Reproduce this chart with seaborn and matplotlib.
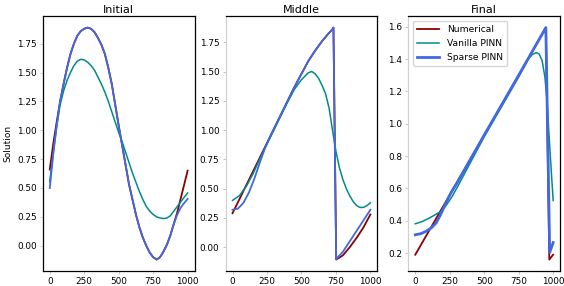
import numpy as np
import pandas as pd
import matplotlib
matplotlib.use("Agg")
import matplotlib.pyplot as plt
import seaborn as sns

# -----------------------------
# Data (x position, solution value)
# -----------------------------
titles = ["Initial", "Middle", "Final"]
series_names = ["Numerical", "Vanilla PINN", "Sparse PINN"]
colors = ["#8b0000", "#008b8b", "#4169e1"]
widths = [1.3, 1.1, 1.3]

# Initial
init_num_x = [0, 25, 50, 75, 100, 125, 150, 175, 200, 225, 250, 275, 300, 325, 350, 375, 400,
              425, 450, 475, 500, 525, 550, 575, 600, 625, 650, 675, 700, 725, 750, 775, 800,
              825, 850, 875, 900, 925, 950, 975, 1000]
init_num_y = [0.66, 0.88, 1.07, 1.25, 1.40, 1.54, 1.66, 1.75, 1.82, 1.86, 1.88, 1.89, 1.88, 1.85,
              1.80, 1.74, 1.66, 1.54, 1.40, 1.22, 1.04, 0.87, 0.70, 0.53, 0.40, 0.27, 0.16, 0.07,
              0.00, -0.06, -0.10, -0.12, -0.10, -0.05, 0.01, 0.09, 0.19, 0.29, 0.41, 0.53, 0.65]
init_van_x = [0, 25, 50, 75, 100, 125, 150, 175, 200, 225, 250, 275, 300, 325, 350, 375, 400,
              425, 450, 475, 500, 525, 550, 575, 600, 625, 650, 675, 700, 725, 750, 775, 800,
              825, 850, 875, 900, 925, 950, 975, 1000]
init_van_y = [0.556, 0.80, 1.03, 1.22, 1.34, 1.43, 1.50, 1.56, 1.60, 1.615, 1.61, 1.59, 1.56,
              1.52, 1.46, 1.40, 1.33, 1.25, 1.16, 1.07, 0.98, 0.90, 0.81, 0.72, 0.63, 0.55, 0.47,
              0.40, 0.34, 0.30, 0.27, 0.25, 0.24, 0.235, 0.24, 0.26, 0.30, 0.34, 0.38, 0.42, 0.457]
init_sp_x = [0, 25, 50, 75, 100, 125, 150, 175, 200, 225, 250, 275, 300, 325, 350, 375, 400,
             425, 450, 475, 500, 525, 550, 575, 600, 625, 650, 675, 700, 725, 750, 775, 800,
             825, 850, 875, 900, 925, 950, 975, 1000]
init_sp_y = [0.50, 0.79, 1.04, 1.25, 1.40, 1.54, 1.66, 1.75, 1.82, 1.86, 1.88, 1.89, 1.88, 1.85,
             1.80, 1.74, 1.66, 1.54, 1.40, 1.22, 1.04, 0.87, 0.70, 0.53, 0.40, 0.27, 0.16, 0.07,
             0.00, -0.06, -0.10, -0.12, -0.10, -0.05, 0.01, 0.09, 0.19, 0.27, 0.33, 0.37, 0.405]

# Middle
mid_num_x = [0, 50, 100, 150, 200, 250, 300, 350, 400, 450, 500, 550, 600, 650, 700, 725, 732,
             752, 800, 850, 900, 950, 1000]
mid_num_y = [0.29, 0.41, 0.53, 0.65, 0.77, 0.89, 1.01, 1.13, 1.25, 1.37, 1.48, 1.59, 1.68, 1.76,
             1.83, 1.86, 1.875, -0.105, -0.07, 0.00, 0.08, 0.17, 0.28]
mid_van_x = [0, 50, 100, 150, 200, 250, 300, 350, 400, 450, 500, 550, 575, 600, 625, 650, 675,
             700, 725, 750, 775, 800, 825, 850, 875, 900, 925, 950, 975, 1000]
mid_van_y = [0.40, 0.44, 0.52, 0.63, 0.76, 0.88, 1.00, 1.12, 1.24, 1.35, 1.43, 1.49, 1.50, 1.48,
             1.44, 1.38, 1.31, 1.19, 1.00, 0.82, 0.68, 0.58, 0.50, 0.44, 0.39, 0.355, 0.34, 0.34,
             0.355, 0.38]
mid_sp_x = [0, 40, 80, 120, 160, 200, 240, 300, 350, 400, 450, 500, 550, 600, 650, 700, 725, 732,
            752, 800, 850, 900, 950, 1000]
mid_sp_y = [0.32, 0.33, 0.38, 0.47, 0.59, 0.73, 0.86, 1.01, 1.13, 1.25, 1.37, 1.48, 1.59, 1.68,
            1.76, 1.83, 1.86, 1.875, -0.10, -0.04, 0.05, 0.14, 0.23, 0.32]

# Final
fin_num_x = [0, 250, 500, 750, 947, 972, 1000]
fin_num_y = [0.19, 0.56, 0.93, 1.30, 1.595, 0.16, 0.19]
fin_van_x = [0, 50, 101, 150, 186, 220, 260, 300, 500, 750, 800, 820, 850, 880, 900, 920, 940,
             955, 975, 1000]
fin_van_y = [0.381, 0.395, 0.416, 0.44, 0.458, 0.49, 0.54, 0.60, 0.92, 1.29, 1.37, 1.40, 1.43,
             1.44, 1.43, 1.39, 1.29, 1.15, 0.86, 0.525]
fin_sp_x = [0, 40, 77, 115, 150, 185, 222, 260, 300, 500, 750, 947, 975, 1000]
fin_sp_y = [0.313, 0.32, 0.334, 0.355, 0.385, 0.44, 0.51, 0.575, 0.63, 0.93, 1.30, 1.595, 0.204,
            0.265]

panels = [
    [(init_num_x, init_num_y), (init_van_x, init_van_y), (init_sp_x, init_sp_y)],
    [(mid_num_x, mid_num_y), (mid_van_x, mid_van_y), (mid_sp_x, mid_sp_y)],
    [(fin_num_x, fin_num_y), (fin_van_x, fin_van_y), (fin_sp_x, fin_sp_y)],
]

# -----------------------------
# Plot
# -----------------------------
fig, axes = plt.subplots(1, 3, figsize=(5.64, 2.86), dpi=100)
plt.subplots_adjust(left=0.076, right=0.993, bottom=0.052, top=0.944, wspace=0.205)

for i, ax in enumerate(axes):
    for j, (xs, ys) in enumerate(panels[i]):
        df = pd.DataFrame({"x": xs, "y": ys})
        sns.lineplot(data=df, x="x", y="y", ax=ax, color=colors[j],
                     lw=widths[j], label=series_names[j], legend=False)
    ax.set_title(titles[i], fontsize=8, pad=2)
    ax.set_xlabel("")
    ax.set_ylabel("")
    ax.set_xticks([0, 250, 500, 750, 1000])
    ax.tick_params(labelsize=6.4, length=2.5, width=0.6, pad=2, color="#bbbbbb")
    for s in ax.spines.values():
        s.set_linewidth(0.9)
    if i > 0:
        ax.spines["left"].set_color("#d0d0d0")

axes[0].set_ylabel("Solution", fontsize=6.5, labelpad=3)
axes[0].set_yticks([0.0, 0.25, 0.5, 0.75, 1.0, 1.25, 1.5, 1.75])
axes[1].set_yticks([0.0, 0.25, 0.5, 0.75, 1.0, 1.25, 1.5, 1.75])
axes[2].set_yticks([0.2, 0.4, 0.6, 0.8, 1.0, 1.2, 1.4, 1.6])

handles, labels = axes[2].get_legend_handles_labels()
handles[2].set_linewidth(2)
axes[2].legend(handles, labels, loc="upper left", fontsize=6.6,
               handlelength=2.4, borderpad=0.45, labelspacing=0.55,
               handletextpad=0.9)

plt.savefig("out.png", dpi=100)
plt.close()
